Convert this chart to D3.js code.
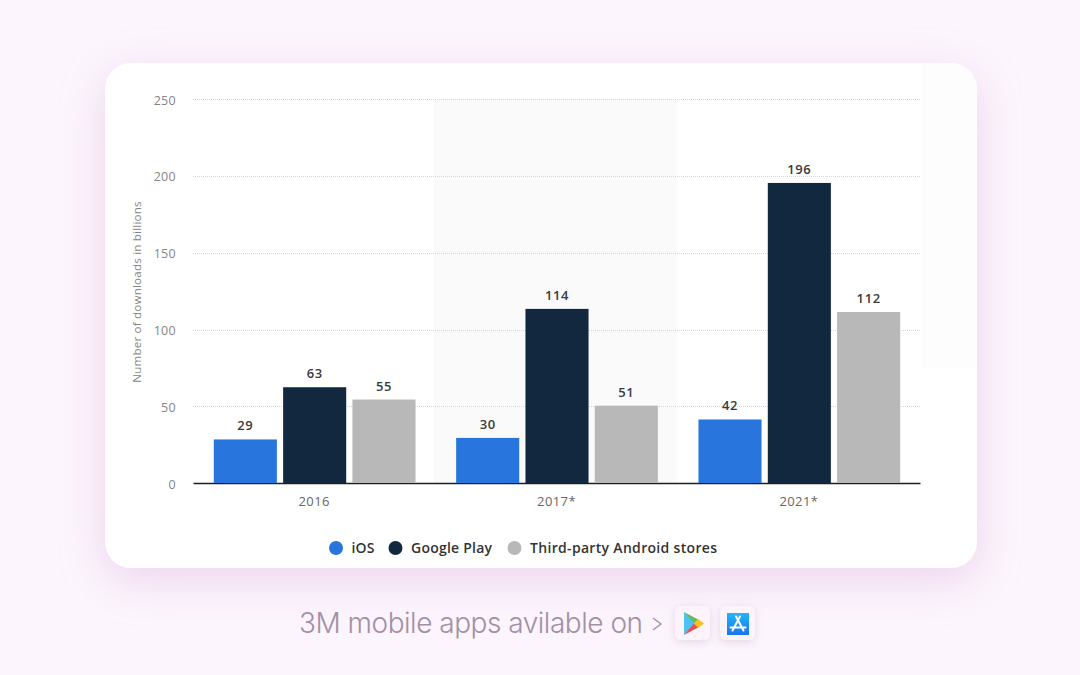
<!DOCTYPE html>
<html>
<head>
<meta charset="utf-8">
<script src="https://cdn.jsdelivr.net/npm/d3@7"></script>
<style>
html, body { margin: 0; padding: 0; background: #fcf5fd; }
svg { display: block; }
text { font-family: "Open Sans", sans-serif; }
</style>
</head>
<body>
<div id="chart"></div>
<script>
// chart values
var years = ["2016", "2017*", "2021*"];
var seriesNames = ["iOS", "Google Play", "Third-party Android stores"];
var iosValues = [29, 30, 42];
var googlePlayValues = [63, 114, 196];
var thirdPartyValues = [55, 51, 112];
var yTicks = [0, 50, 100, 150, 200, 250];
var seriesColors = ["#2775dd", "#11283f", "#b8b8b8"];

var width = 1080, height = 675;
var plot = { left: 193, right: 920, top: 100, bottom: 484 };

var svg = d3.select("#chart").append("svg")
    .attr("width", width)
    .attr("height", height);

// card shadow
var defs = svg.append("defs");
var shadow = defs.append("filter").attr("id", "cardShadow")
    .attr("x", "-20%").attr("y", "-30%").attr("width", "140%").attr("height", "170%");
shadow.append("feDropShadow")
    .attr("dx", 0).attr("dy", 12).attr("stdDeviation", 22)
    .attr("flood-color", "#d9a9d9").attr("flood-opacity", 0.45);
var iconShadow = defs.append("filter").attr("id", "iconShadow")
    .attr("x", "-40%").attr("y", "-40%").attr("width", "180%").attr("height", "180%");
iconShadow.append("feDropShadow")
    .attr("dx", 0).attr("dy", 2).attr("stdDeviation", 4)
    .attr("flood-color", "#b79ab7").attr("flood-opacity", 0.35);
var storeGrad = defs.append("linearGradient").attr("id", "storeGrad")
    .attr("x1", 0).attr("y1", 0).attr("x2", 0).attr("y2", 1);
storeGrad.append("stop").attr("offset", 0).attr("stop-color", "#1fb6fb");
storeGrad.append("stop").attr("offset", 1).attr("stop-color", "#1a74f0");

svg.append("rect")
    .attr("x", 105).attr("y", 63)
    .attr("width", 872).attr("height", 505)
    .attr("rx", 26)
    .attr("fill", "#ffffff")
    .attr("filter", "url(#cardShadow)");

// slightly grey strip at the right of the card
svg.append("path")
    .attr("d", "M921,63H951A26,26 0 0 1 977,89V368H921Z")
    .attr("fill", "#fdfdfd");

// set the ranges
var x = d3.scaleBand().domain(years).range([plot.left, plot.right]);
var xSeries = d3.scaleBand().domain(seriesNames)
    .range([0, x.bandwidth()])
    .paddingInner(0.09)
    .paddingOuter(0.293);
var y = d3.scaleLinear().domain([0, 250]).range([plot.bottom, plot.top]);

// shaded middle column
svg.append("rect")
    .attr("x", x("2017*") - 1.5)
    .attr("y", y(250) - 1)
    .attr("width", x.bandwidth() + 1)
    .attr("height", y(0) - y(250))
    .attr("fill", "#fafafa");

// grid lines
svg.append("g").selectAll("line")
    .data(yTicks.filter(function (d) { return d > 0; }))
    .enter().append("line")
    .attr("x1", plot.left)
    .attr("x2", plot.right)
    .attr("y1", function (d) { return Math.floor(y(d) - 0.3) + 0.5; })
    .attr("y2", function (d) { return Math.floor(y(d) - 0.3) + 0.5; })
    .attr("stroke", "#d6d6d6")
    .attr("stroke-width", 1)
    .attr("stroke-dasharray", "1,1");

// y axis
var yAxis = svg.append("g")
    .attr("transform", "translate(" + plot.left + ",0)")
    .call(d3.axisLeft(y).tickValues(yTicks).tickSize(0).tickPadding(17));
yAxis.select(".domain").remove();
yAxis.selectAll("text")
    .attr("dy", "0.32em")
    .style("font-size", "12.5px")
    .style("font-family", "'Open Sans', sans-serif")
    .style("letter-spacing", "0.3px")
    .attr("fill", "#858585");

// x axis
var xAxis = svg.append("g")
    .attr("transform", "translate(0," + (plot.bottom - 1) + ")")
    .call(d3.axisBottom(x).tickSize(0).tickPadding(14));
xAxis.select(".domain").attr("stroke", "#1f1f1f").attr("stroke-width", 1.4);
xAxis.selectAll("text")
    .style("font-size", "13px")
    .style("font-family", "'Open Sans', sans-serif")
    .style("letter-spacing", "0.4px")
    .attr("fill", "#666666");

// y axis title
svg.append("text")
    .attr("transform", "translate(141,292) rotate(-90)")
    .attr("text-anchor", "middle")
    .style("font-size", "11.6px")
    .style("letter-spacing", "0.2px")
    .attr("fill", "#858585")
    .text("Number of downloads in billions");

// bars
var seriesValues = [iosValues, googlePlayValues, thirdPartyValues];
seriesNames.forEach(function (name, s) {
    var g = svg.append("g");
    g.selectAll("rect")
        .data(seriesValues[s])
        .enter().append("rect")
        .attr("x", function (d, i) { return x(years[i]) + xSeries(name) + 0.5; })
        .attr("y", function (d) { return y(d); })
        .attr("width", xSeries.bandwidth())
        .attr("height", function (d) { return y(0) - y(d) - 1; })
        .attr("fill", seriesColors[s]);
    g.selectAll("text")
        .data(seriesValues[s])
        .enter().append("text")
        .attr("x", function (d, i) { return x(years[i]) + xSeries(name) + xSeries.bandwidth() / 2 + 0.5; })
        .attr("y", function (d) { return y(d) - 9; })
        .attr("text-anchor", "middle")
        .style("font-size", "13px")
        .style("font-weight", 600)
        .style("letter-spacing", "0.6px")
        .attr("fill", "#3a3a3a")
        .text(function (d) { return d; });
});

// legend
var legendX = [336, 395.5, 514.5];
var legendWidths = [23, 81, 187];
var legend = svg.append("g").selectAll("g")
    .data(seriesNames)
    .enter().append("g")
    .attr("transform", function (d, i) { return "translate(" + legendX[i] + ",548)"; });
legend.append("circle")
    .attr("r", 7)
    .attr("fill", function (d, i) { return seriesColors[i]; });
legend.append("text")
    .attr("x", 15.5)
    .attr("y", 5)
    .attr("textLength", function (d, i) { return legendWidths[i]; })
    .style("font-size", "14px")
    .style("font-weight", 600)
    .attr("fill", "#333333")
    .text(function (d) { return d; });

// caption under the card
svg.append("text")
    .attr("x", 299)
    .attr("y", 633)
    .style("font-family", "Inter, sans-serif")
    .style("font-size", "28px")
    .style("font-weight", 300)
    .attr("textLength", 344)
    .attr("fill", "#a38fa6")
    .text("3M mobile apps avilable on");
svg.append("path")
    .attr("d", "M653,618L661,624L653,630")
    .attr("fill", "none")
    .attr("stroke", "#a38fa6")
    .attr("stroke-width", 1.4);

// store buttons
[675, 720].forEach(function (bx) {
    svg.append("rect")
        .attr("x", bx).attr("y", 606)
        .attr("width", 35).attr("height", 34)
        .attr("rx", 6)
        .attr("fill", "#fdf3fb")
        .attr("filter", "url(#iconShadow)");
});

// play store icon
var play = svg.append("g").attr("transform", "translate(684,612)");
play.append("path").attr("d", "M0,0L11,11.5L0,23Z").attr("fill", "#4fc3ef");
play.append("path").attr("d", "M0,0L15,8L10,11.5Z").attr("fill", "#62ba6e");
play.append("path").attr("d", "M0,23L15,15L10,11.5Z").attr("fill", "#ee4a5a");
play.append("path").attr("d", "M14,7L20,11.5L14,16L10,11.5Z").attr("fill", "#fcc21b");

// app store icon
var store = svg.append("g").attr("transform", "translate(727,613)");
store.append("rect").attr("width", 22).attr("height", 22).attr("fill", "url(#storeGrad)");
store.append("path")
    .attr("d", "M9,3.5L16.5,17.5M13,3.5L5.5,17.5M3.5,14.5H18.5")
    .attr("fill", "none")
    .attr("stroke", "#ffffff")
    .attr("stroke-width", 2)
    .attr("stroke-linecap", "round");
</script>
</body>
</html>
